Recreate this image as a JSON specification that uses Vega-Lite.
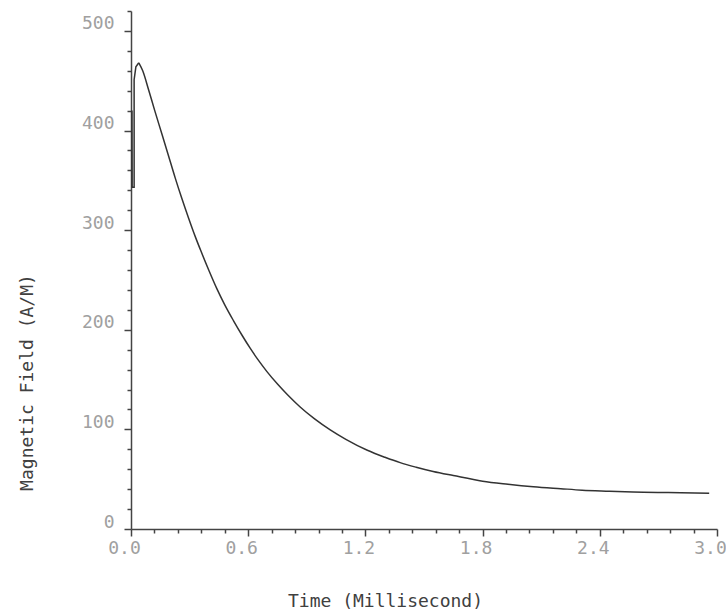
{
  "$schema": "https://vega.github.io/schema/vega-lite/v6.json",
  "autosize": "none",
  "width": 586,
  "height": 518,
  "padding": {"left": 131, "top": 11, "right": 9, "bottom": 86},
  "background": "white",
  "config": {"view": {"stroke": null}},
  "data": {"values": [
    {"i": 0, "t": 0.005, "v": 343},
    {"i": 1, "t": 0.005, "v": 420},
    {"i": 2, "t": 0.006, "v": 343},
    {"i": 3, "t": 0.016, "v": 343},
    {"i": 4, "t": 0.016, "v": 451},
    {"i": 5, "t": 0.025, "v": 464},
    {"i": 6, "t": 0.04, "v": 468},
    {"i": 7, "t": 0.06, "v": 460},
    {"i": 8, "t": 0.09, "v": 441},
    {"i": 9, "t": 0.12, "v": 421},
    {"i": 10, "t": 0.159, "v": 396},
    {"i": 11, "t": 0.19, "v": 376},
    {"i": 12, "t": 0.227, "v": 352},
    {"i": 13, "t": 0.26, "v": 332},
    {"i": 14, "t": 0.295, "v": 312},
    {"i": 15, "t": 0.33, "v": 293},
    {"i": 16, "t": 0.355, "v": 280.5},
    {"i": 17, "t": 0.4, "v": 259},
    {"i": 18, "t": 0.44, "v": 241},
    {"i": 19, "t": 0.48, "v": 225},
    {"i": 20, "t": 0.525, "v": 209},
    {"i": 21, "t": 0.57, "v": 194},
    {"i": 22, "t": 0.61, "v": 181.5},
    {"i": 23, "t": 0.65, "v": 170},
    {"i": 24, "t": 0.696, "v": 158},
    {"i": 25, "t": 0.75, "v": 145.5},
    {"i": 26, "t": 0.8, "v": 135},
    {"i": 27, "t": 0.866, "v": 122.5},
    {"i": 28, "t": 0.94, "v": 110.5},
    {"i": 29, "t": 1.02, "v": 99.5},
    {"i": 30, "t": 1.1, "v": 90},
    {"i": 31, "t": 1.21, "v": 79},
    {"i": 32, "t": 1.3, "v": 72},
    {"i": 33, "t": 1.378, "v": 66.6},
    {"i": 34, "t": 1.46, "v": 62},
    {"i": 35, "t": 1.547, "v": 57.7},
    {"i": 36, "t": 1.65, "v": 53.6},
    {"i": 37, "t": 1.8, "v": 48},
    {"i": 38, "t": 1.93, "v": 45},
    {"i": 39, "t": 2.06, "v": 42.5},
    {"i": 40, "t": 2.2, "v": 40.5},
    {"i": 41, "t": 2.31, "v": 39},
    {"i": 42, "t": 2.45, "v": 38},
    {"i": 43, "t": 2.57, "v": 37.2},
    {"i": 44, "t": 2.75, "v": 36.6},
    {"i": 45, "t": 2.96, "v": 36}
  ]},
  "resolve": {"axis": {"x": "independent", "y": "independent"}},
  "layer": [
    {
      "mark": {"type": "line", "opacity": 0},
      "encoding": {
        "x": {"field": "t", "type": "quantitative", "scale": {"domain": [0, 3], "nice": false, "zero": false},
          "axis": {"orient": "bottom", "values": [0.12,0.24,0.36,0.48,0.72,0.84,0.96,1.08,1.32,1.44,1.56,1.68,1.92,2.04,2.16,2.28,2.52,2.64,2.76,2.88], "labels": false, "domain": false, "grid": false, "tickSize": 4, "tickColor": "#444", "tickWidth": 1.5, "title": null}},
        "y": {"field": "v", "type": "quantitative", "scale": {"domain": [0, 520], "nice": false},
          "axis": {"orient": "left", "values": [20,40,60,80,120,140,160,180,220,240,260,280,320,340,360,380,420,440,460,480,520], "labels": false, "domain": false, "grid": false, "tickSize": 4, "tickColor": "#444", "tickWidth": 1.5, "title": null}},
        "order": {"field": "i", "type": "quantitative"}
      }
    },
    {
      "transform": [{"filter": "datum.i <= 6"}],
      "mark": {"type": "line", "color": "#333333", "strokeWidth": 1.5},
      "encoding": {
        "x": {"field": "t", "type": "quantitative", "axis": null},
        "y": {"field": "v", "type": "quantitative", "axis": null},
        "order": {"field": "i", "type": "quantitative"}
      }
    },
    {
      "transform": [{"filter": "datum.i >= 6"}],
      "mark": {"type": "line", "color": "#333333", "strokeWidth": 1.5, "interpolate": "monotone"},
      "encoding": {
        "x": {"field": "t", "type": "quantitative",
          "axis": {"orient": "bottom", "values": [0, 0.6, 1.2, 1.8, 2.4, 3.0], "format": ".1f", "grid": false,
            "domainColor": "#444", "domainWidth": 1.5, "tickColor": "#444", "tickWidth": 1.5, "tickSize": 7,
            "labelFont": "DejaVu Sans Mono", "labelFontSize": 18, "labelColor": "#a0a0a0", "labelPadding": 3, "labelOffset": -7, "labelFlush": false,
            "title": "Time (Millisecond)", "titleFont": "DejaVu Sans Mono", "titleFontSize": 18, "titleFontWeight": "normal", "titleColor": "#404040",
            "titleX": 254, "titleY": 72, "titleBaseline": "middle", "titleAlign": "center"}},
        "y": {"field": "v", "type": "quantitative",
          "axis": {"orient": "left", "values": [0, 100, 200, 300, 400, 500], "grid": false,
            "domainColor": "#444", "domainWidth": 1.5, "tickColor": "#444", "tickWidth": 1.5, "tickSize": 7,
            "labelFont": "DejaVu Sans Mono", "labelFontSize": 18, "labelColor": "#a0a0a0", "labelPadding": 10, "labelOffset": -7, "labelFlush": false,
            "title": "Magnetic Field (A/M)", "titleFont": "DejaVu Sans Mono", "titleFontSize": 18, "titleFontWeight": "normal", "titleColor": "#404040",
            "titleX": -104, "titleY": 371, "titleBaseline": "middle", "titleAlign": "center", "titleAngle": -90}},
        "order": {"field": "i", "type": "quantitative"}
      }
    }
  ]
}
